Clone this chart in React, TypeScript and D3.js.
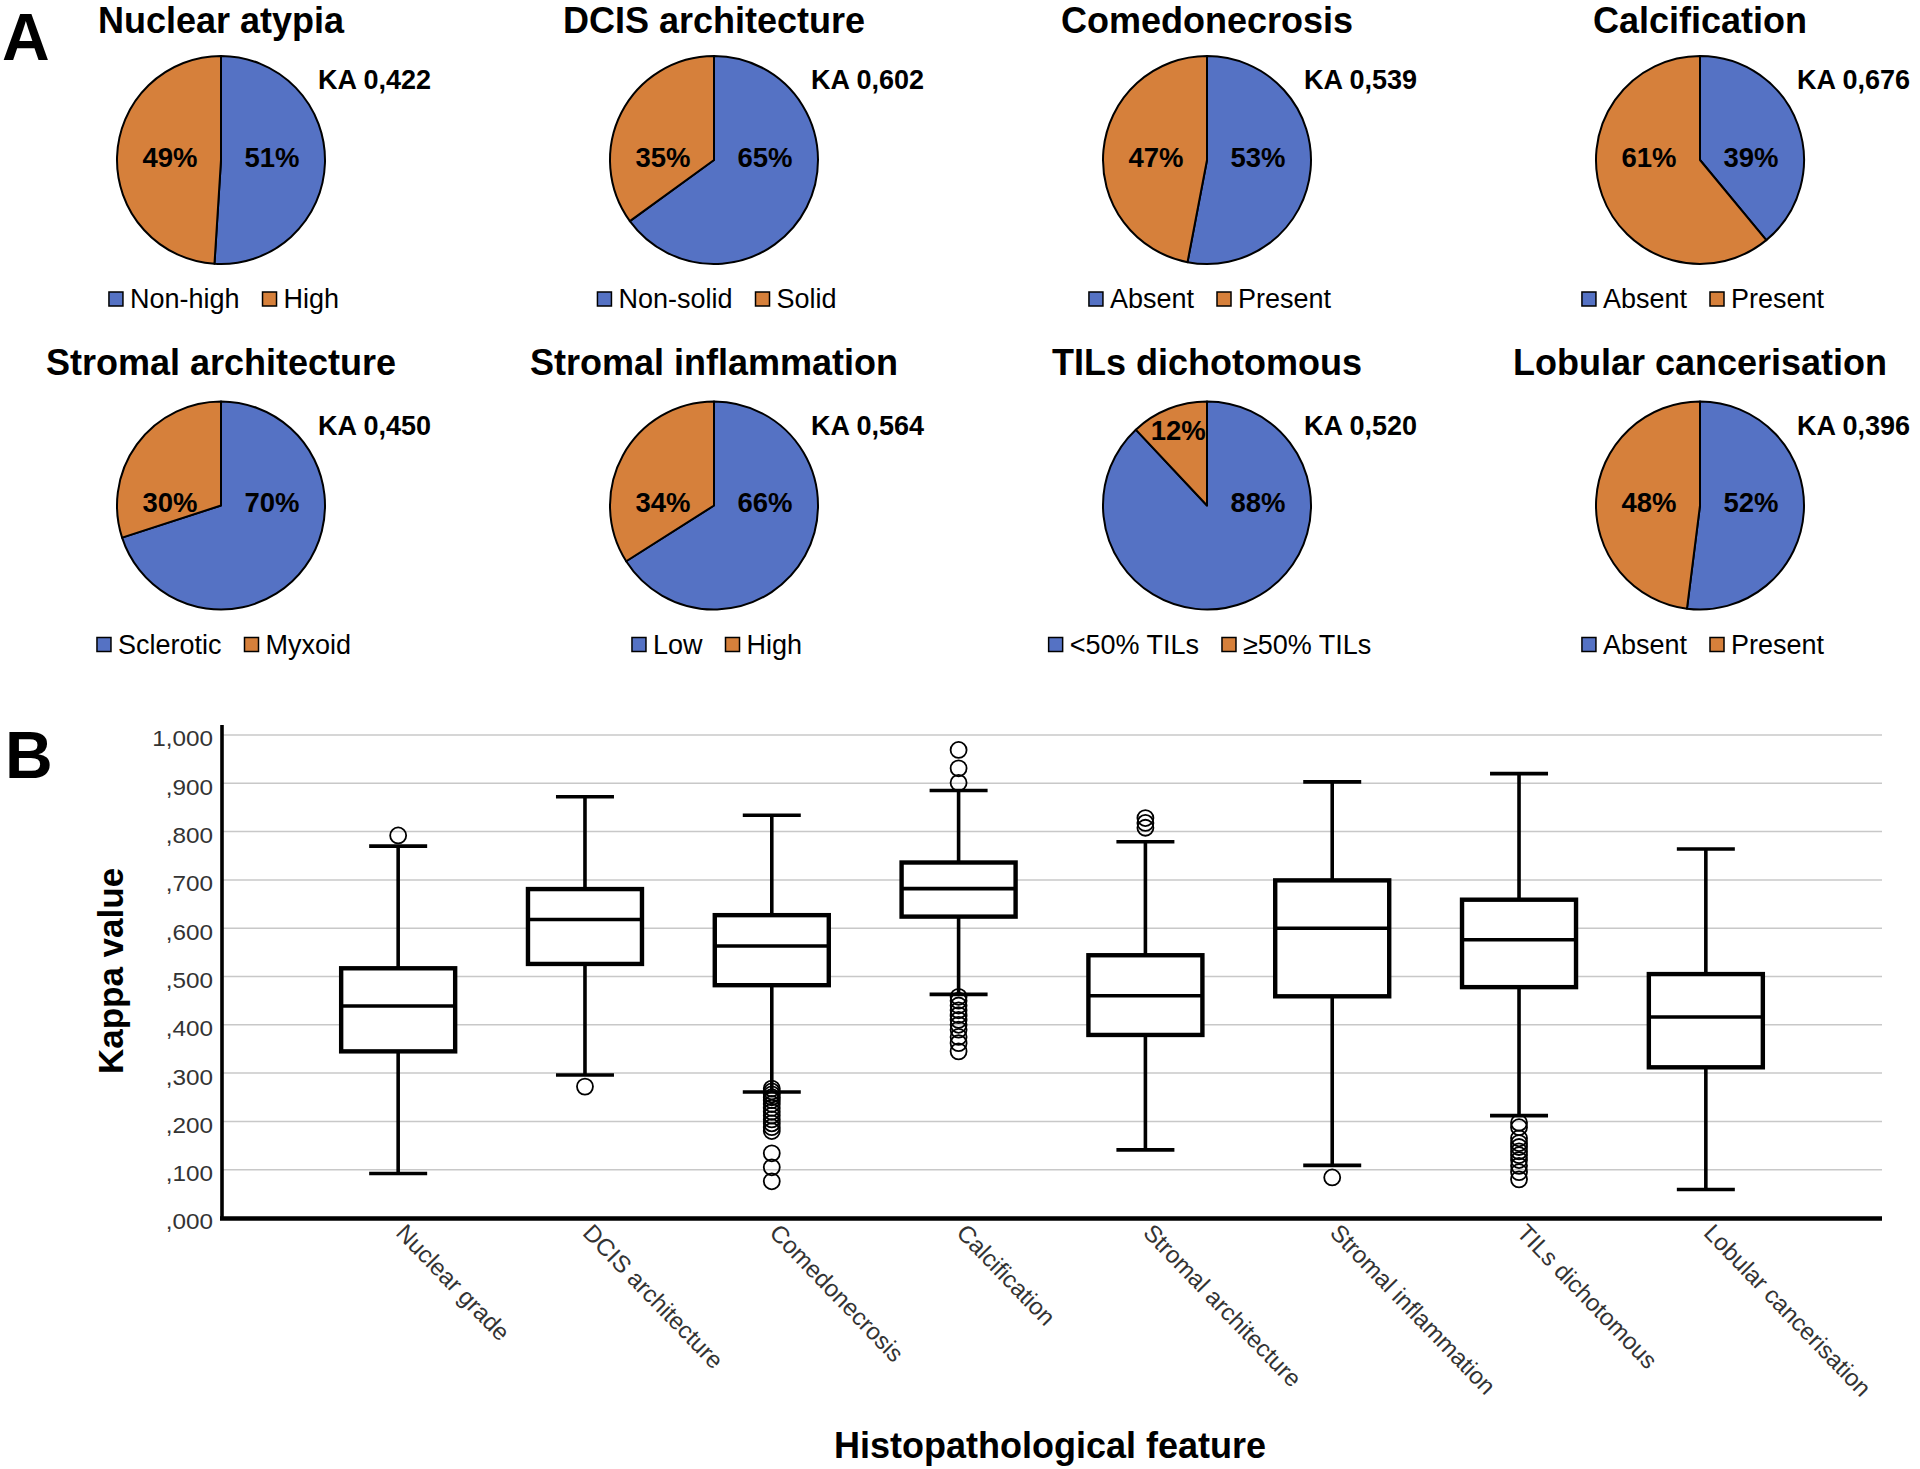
import React, { useEffect, useRef } from "react";
import * as d3 from "d3";

// ---------- Panel A data ----------
const pieTitles = [
  "Nuclear atypia",
  "DCIS architecture",
  "Comedonecrosis",
  "Calcification",
  "Stromal architecture",
  "Stromal inflammation",
  "TILs dichotomous",
  "Lobular cancerisation",
];
const firstShare = [51, 65, 53, 39, 70, 66, 88, 52];
const secondShare = [49, 35, 47, 61, 30, 34, 12, 48];
const firstLegend = ["Non-high", "Non-solid", "Absent", "Absent", "Sclerotic", "Low", "<50% TILs", "Absent"];
const secondLegend = ["High", "Solid", "Present", "Present", "Myxoid", "High", "≥50% TILs", "Present"];
const kaValues = [0.422, 0.602, 0.539, 0.676, 0.45, 0.564, 0.52, 0.396];

// ---------- Panel B data ----------
const categories = [
  "Nuclear grade",
  "DCIS architecture",
  "Comedonecrosis",
  "Calcification",
  "Stromal architecture",
  "Stromal inflammation",
  "TILs dichotomous",
  "Lobular cancerisation",
];
const whiskerLow = [0.092, 0.296, 0.261, 0.463, 0.141, 0.109, 0.212, 0.059];
const q1 = [0.345, 0.526, 0.482, 0.624, 0.379, 0.459, 0.478, 0.312];
const median = [0.439, 0.618, 0.563, 0.682, 0.46, 0.6, 0.576, 0.416];
const q3 = [0.517, 0.681, 0.627, 0.736, 0.544, 0.699, 0.659, 0.505];
const whiskerHigh = [0.77, 0.872, 0.834, 0.885, 0.779, 0.903, 0.92, 0.764];
const outliers: number[][] = [
  [0.792],
  [0.272],
  [0.268, 0.262, 0.256, 0.25, 0.244, 0.236, 0.228, 0.22, 0.212, 0.204, 0.196, 0.188, 0.18, 0.134, 0.105, 0.076],
  [0.969, 0.931, 0.901, 0.458, 0.45, 0.44, 0.43, 0.42, 0.41, 0.4, 0.39, 0.375, 0.362, 0.345],
  [0.828, 0.818, 0.808],
  [0.084],
  [0.197, 0.188, 0.165, 0.155, 0.147, 0.138, 0.13, 0.12, 0.108, 0.095, 0.08],
  [],
];
const yTicks = [0, 0.1, 0.2, 0.3, 0.4, 0.5, 0.6, 0.7, 0.8, 0.9, 1.0];

const BLUE = "#5572C4";
const ORANGE = "#D6803B";
const FONT = "'Liberation Sans', Arial, Helvetica, sans-serif";

const commaFmt = (v: number) => {
  const s = d3.format(".3f")(v).replace(".", ",");
  return s.startsWith("0,") ? s.slice(1) : s;
};
const kaFmt = (v: number) => d3.format(".3f")(v).replace(".", ",");

export default function App() {
  const ref = useRef<SVGSVGElement>(null);

  useEffect(() => {
    const svg = d3.select(ref.current!);
    svg.selectAll("*").remove();
    svg.attr("font-family", FONT);

    svg.append("rect").attr("width", 1920).attr("height", 1469).attr("fill", "#fff");

    // Panel letters
    svg.append("text").attr("x", 2).attr("y", 60).attr("font-size", 66).attr("font-weight", "bold").text("A");
    svg.append("text").attr("x", 5).attr("y", 778).attr("font-size", 66).attr("font-weight", "bold").text("B");

    // ---------- Panel A ----------
    const colX = d3.scalePoint<number>().domain([0, 1, 2, 3]).range([221, 1700]);
    const rowY = d3.scalePoint<number>().domain([0, 1]).range([160, 505.5]);
    const R = 104;
    const pie = d3.pie<number>().sort(null).value((d) => d);
    const arc = d3.arc<d3.PieArcDatum<number>>().innerRadius(0).outerRadius(R);

    pieTitles.forEach((title, i) => {
      const row = Math.floor(i / 4);
      const cx = colX(i % 4)!;
      const cy = rowY(row)!;
      const g = svg.append("g").attr("transform", `translate(${cx},${cy})`);
      const arcs = pie([firstShare[i], secondShare[i]]);
      g.selectAll("path")
        .data(arcs)
        .join("path")
        .attr("d", arc as any)
        .attr("fill", (_d, j) => (j === 0 ? BLUE : ORANGE))
        .attr("stroke", "#000")
        .attr("stroke-width", 2)
        .attr("stroke-linejoin", "round");
      arcs.forEach((a) => {
        const frac = (a.endAngle - a.startAngle) / (2 * Math.PI);
        const mid = (a.startAngle + a.endAngle) / 2;
        let lx: number, ly: number;
        if (frac < 0.2) {
          const rr = R * 0.75;
          lx = rr * Math.sin(mid);
          ly = -rr * Math.cos(mid);
        } else {
          lx = Math.sign(Math.sin(mid)) * R * 0.49;
          ly = 0;
        }
        g.append("text")
          .attr("x", lx)
          .attr("y", ly)
          .attr("dy", "0.24em")
          .attr("text-anchor", "middle")
          .attr("font-size", 27.5)
          .attr("font-weight", "bold")
          .text(`${a.data}%`);
      });

      svg.append("text")
        .attr("x", cx)
        .attr("y", row === 0 ? cy - 127 : cy - 131)
        .attr("text-anchor", "middle")
        .attr("font-size", 36)
        .attr("font-weight", "bold")
        .text(title);

      svg.append("text")
        .attr("x", cx + 97)
        .attr("y", cy - 71)
        .attr("font-size", 27)
        .attr("font-weight", "bold")
        .text(`KA ${kaFmt(kaValues[i])}`);

      // legend
      const baseY = cy + 148;
      const lg = svg.append("g");
      const items = [
        { label: firstLegend[i], color: BLUE },
        { label: secondLegend[i], color: ORANGE },
      ];
      let xPos = 0;
      items.forEach((it, k) => {
        lg.append("rect")
          .attr("x", xPos)
          .attr("y", baseY - 16)
          .attr("width", 14)
          .attr("height", 14)
          .attr("fill", it.color)
          .attr("stroke", "#000")
          .attr("stroke-width", 1.5);
        const t = lg.append("text")
          .attr("x", xPos + 21)
          .attr("y", baseY)
          .attr("font-size", 27)
          .text(it.label);
        const w = (t.node() as SVGTextElement).getComputedTextLength();
        xPos += 21 + w + (k === 0 ? 23 : 0);
      });
      lg.attr("transform", `translate(${cx + 3 - xPos / 2},0)`);
    });

    // ---------- Panel B ----------
    const x = d3.scalePoint<string>().domain(categories).range([222, 1882]).padding(0.943);
    const y = d3.scaleLinear().domain([0, 1]).range([1218, 735]);

    const grid = svg.append("g");
    yTicks.filter((v) => v > 0).forEach((v) => {
      grid.append("line")
        .attr("x1", 222)
        .attr("x2", 1882)
        .attr("y1", y(v))
        .attr("y2", y(v))
        .attr("stroke", "#c8c8c8")
        .attr("stroke-width", 1.5);
    });

    yTicks.forEach((v) => {
      svg.append("text")
        .attr("transform", `translate(213,${y(v) + 4}) scale(1.13,1)`)
        .attr("text-anchor", "end")
        .attr("dominant-baseline", "central")
        .attr("font-size", 21.5)
        .attr("fill", "#333")
        .text(commaFmt(v));
    });

    const boxW = 114;
    const capW = 58;
    categories.forEach((c, i) => {
      const cx = x(c)!;
      const g = svg.append("g").attr("stroke", "#000").attr("fill", "none");
      g.append("line").attr("x1", cx).attr("x2", cx).attr("y1", y(q3[i])).attr("y2", y(whiskerHigh[i])).attr("stroke-width", 3.6);
      g.append("line").attr("x1", cx).attr("x2", cx).attr("y1", y(q1[i])).attr("y2", y(whiskerLow[i])).attr("stroke-width", 3.6);
      [whiskerHigh[i], whiskerLow[i]].forEach((v) => {
        g.append("line").attr("x1", cx - capW / 2).attr("x2", cx + capW / 2).attr("y1", y(v)).attr("y2", y(v)).attr("stroke-width", 3.6);
      });
      g.append("rect")
        .attr("x", cx - boxW / 2)
        .attr("y", y(q3[i]))
        .attr("width", boxW)
        .attr("height", y(q1[i]) - y(q3[i]))
        .attr("fill", "#fff")
        .attr("stroke-width", 4.4);
      g.append("line").attr("x1", cx - boxW / 2).attr("x2", cx + boxW / 2).attr("y1", y(median[i])).attr("y2", y(median[i])).attr("stroke-width", 3.6);
      outliers[i].forEach((v) => {
        g.append("circle").attr("cx", cx).attr("cy", y(v)).attr("r", 8).attr("stroke-width", 1.8).attr("fill", "none");
      });

      svg.append("text")
        .attr("transform", `translate(${cx + 9},1222) rotate(46)`)
        .attr("dy", "0.72em")
        .attr("font-size", 24)
        .attr("fill", "#333")
        .text(c);
    });

    // axes
    svg.append("line").attr("x1", 222).attr("x2", 222).attr("y1", 725).attr("y2", 1220).attr("stroke", "#000").attr("stroke-width", 3.6);
    svg.append("line").attr("x1", 220).attr("x2", 1882).attr("y1", 1218.5).attr("y2", 1218.5).attr("stroke", "#000").attr("stroke-width", 4.6);

    svg.append("text")
      .attr("transform", "translate(123,971) rotate(-90)")
      .attr("text-anchor", "middle")
      .attr("font-size", 35)
      .attr("font-weight", "bold")
      .text("Kappa value");

    svg.append("text")
      .attr("x", 1050)
      .attr("y", 1458)
      .attr("text-anchor", "middle")
      .attr("font-size", 36)
      .attr("font-weight", "bold")
      .text("Histopathological feature");
  }, []);

  return (
    <svg
      ref={ref}
      width={1920}
      height={1469}
      style={{ position: "absolute", left: 0, top: 0, display: "block" }}
    />
  );
}
